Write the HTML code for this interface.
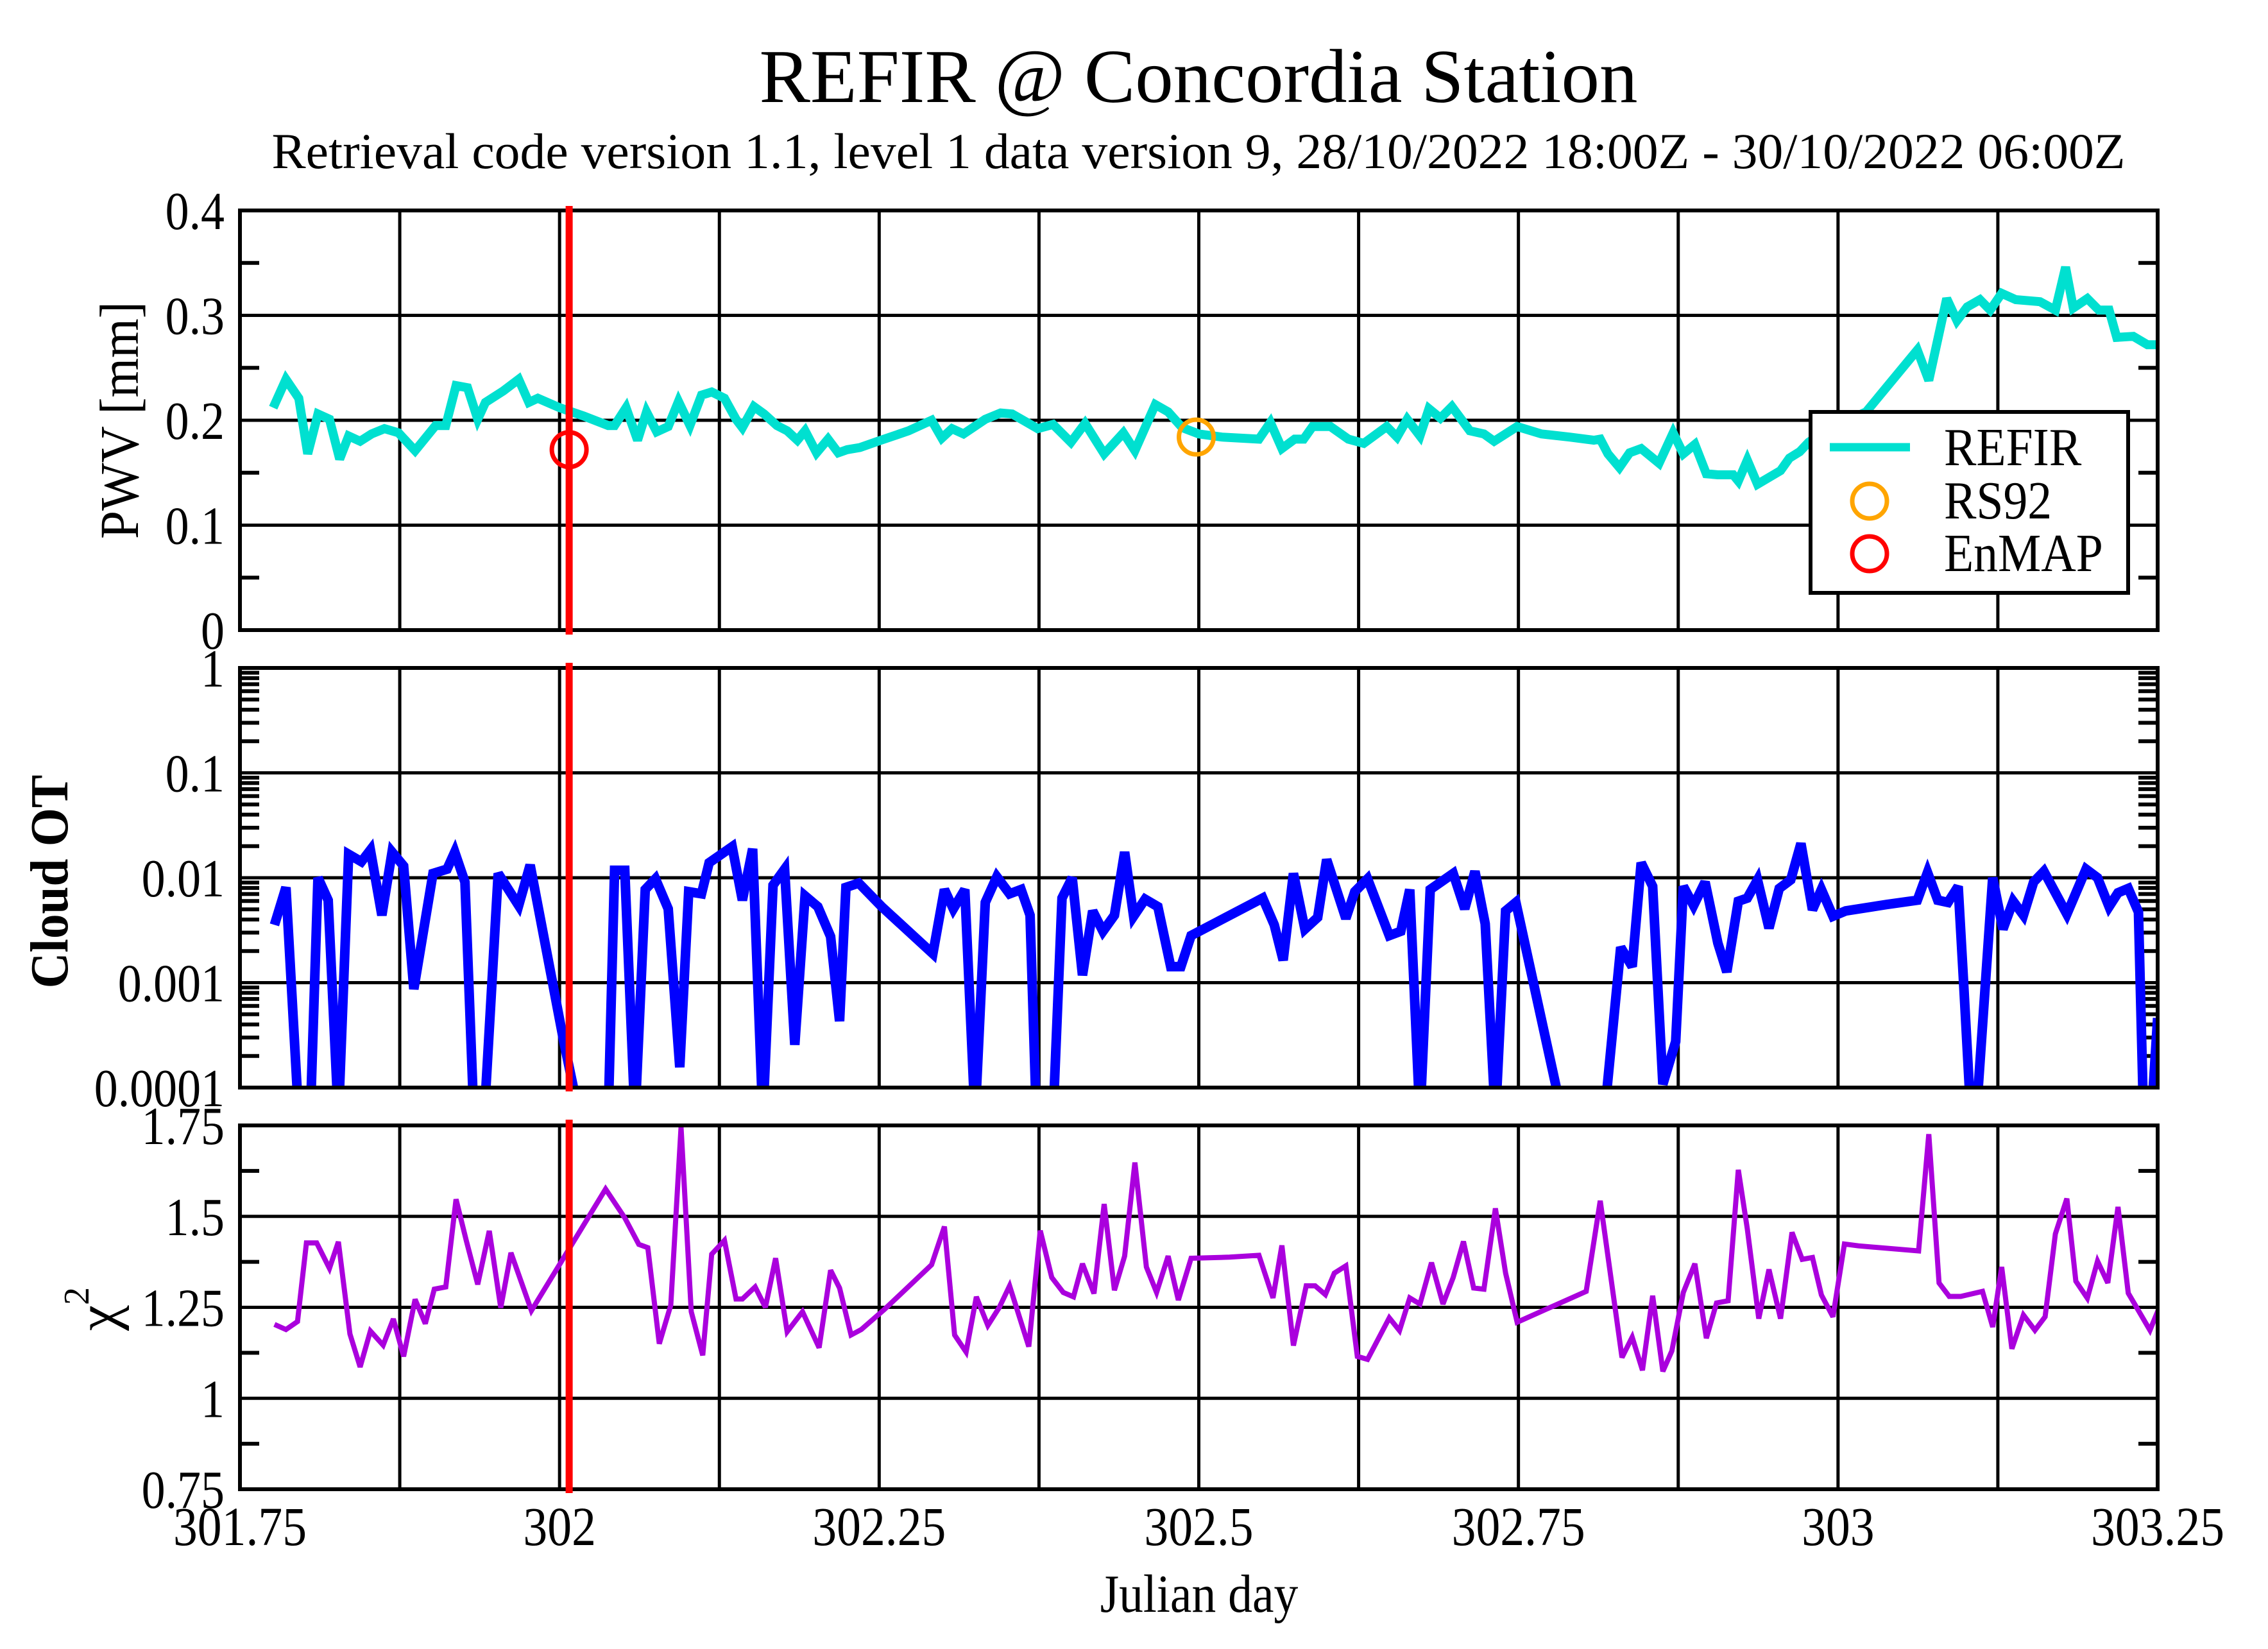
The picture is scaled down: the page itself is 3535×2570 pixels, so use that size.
<!DOCTYPE html>
<html><head><meta charset="utf-8"><title>REFIR @ Concordia Station</title>
<style>html,body{margin:0;padding:0;background:#fff;}svg{display:block;}text{font-family:"Liberation Serif",serif;fill:#000;}</style>
</head><body>
<svg id="chart" xmlns="http://www.w3.org/2000/svg" width="3535" height="2570" viewBox="0 0 3535 2570">
<rect width="3535" height="2570" fill="#fff"/>
<text x="1868" y="159" font-size="119" text-anchor="middle">REFIR @ Concordia Station</text>
<text x="1868" y="262" font-size="78" text-anchor="middle" textLength="2889" lengthAdjust="spacingAndGlyphs">Retrieval code version 1.1, level 1 data version 9, 28/10/2022 18:00Z - 30/10/2022 06:00Z</text>
<g id="plots"></g>
<text transform="translate(1869,2512) scale(0.9,1)" font-size="84" text-anchor="middle">Julian day</text>
<text transform="translate(215,655) rotate(-90) scale(0.92,1)" font-size="86" text-anchor="middle">PWV [mm]</text>
<text transform="translate(105,1374) rotate(-90) scale(0.92,1)" font-size="84" font-weight="bold" text-anchor="middle">Cloud OT</text>
<text transform="translate(182,2040) rotate(-90)" font-size="90" text-anchor="middle">χ<tspan font-size="56" dy="-44">2</tspan></text>
</svg>
<script>
// ---- data ----
const xTickLabels = ["301.75","302","302.25","302.5","302.75","303","303.25"];
const xTickValues = [301.75,302,302.25,302.5,302.75,303,303.25];
const pwvTickValues = [0,0.1,0.2,0.3,0.4];
const pwvTickLabels = ["0","0.1","0.2","0.3","0.4"];
const cotTickExp = [0,-1,-2,-3,-4];
const cotTickLabels = ["1","0.1","0.01","0.001","0.0001"];
const chiTickValues = [0.75,1,1.25,1.5,1.75];
const chiTickLabels = ["0.75","1","1.25","1.5","1.75"];

const pwvDays = [301.776,301.786,301.796,301.803,301.811,301.820,301.828,301.835,301.844,301.853,301.863,301.874,301.887,301.903,301.911,301.919,301.928,301.936,301.942,301.956,301.968,301.976,301.983,302.0,302.019,302.038,302.043,302.052,302.061,302.068,302.076,302.085,302.093,302.102,302.111,302.119,302.129,302.138,302.143,302.152,302.160,302.170,302.178,302.186,302.192,302.201,302.210,302.218,302.225,302.235,302.249,302.273,302.291,302.299,302.307,302.316,302.333,302.345,302.354,302.364,302.374,302.386,302.400,302.411,302.426,302.441,302.450,302.466,302.476,302.487,302.500,302.518,302.547,302.556,302.565,302.575,302.582,302.589,302.603,302.617,302.629,302.647,302.655,302.663,302.673,302.680,302.689,302.698,302.712,302.723,302.731,302.749,302.768,302.790,302.809,302.814,302.820,302.829,302.837,302.846,302.860,302.871,302.879,302.888,302.897,302.906,302.918,302.922,302.929,302.937,302.955,302.962,302.970,302.977,302.99,303.022,303.062,303.071,303.085,303.093,303.101,303.111,303.119,303.128,303.139,303.158,303.170,303.178,303.184,303.195,303.204,303.212,303.218,303.231,303.242,303.251];
const pwvVals = [0.212,0.239,0.221,0.168,0.206,0.201,0.163,0.185,0.180,0.187,0.192,0.188,0.171,0.195,0.195,0.233,0.231,0.201,0.217,0.228,0.239,0.217,0.221,0.212,0.204,0.195,0.195,0.212,0.181,0.208,0.189,0.194,0.218,0.195,0.224,0.227,0.221,0.201,0.193,0.213,0.206,0.195,0.190,0.181,0.190,0.169,0.182,0.169,0.172,0.174,0.180,0.190,0.200,0.183,0.192,0.187,0.201,0.207,0.206,0.199,0.192,0.196,0.179,0.197,0.168,0.188,0.171,0.215,0.208,0.193,0.187,0.184,0.182,0.198,0.173,0.182,0.182,0.194,0.194,0.182,0.178,0.194,0.184,0.201,0.185,0.211,0.202,0.213,0.190,0.187,0.180,0.194,0.187,0.184,0.181,0.182,0.168,0.155,0.169,0.173,0.159,0.188,0.168,0.177,0.149,0.148,0.148,0.142,0.162,0.139,0.152,0.164,0.170,0.179,0.19,0.208,0.267,0.238,0.316,0.295,0.308,0.315,0.305,0.321,0.315,0.313,0.305,0.346,0.307,0.316,0.305,0.305,0.279,0.280,0.272,0.272];

const cotDays = [301.777,301.786,301.796,301.805,301.811,301.819,301.827,301.835,301.845,301.852,301.861,301.869,301.878,301.886,301.901,301.912,301.918,301.926,301.933,301.941,301.952,301.968,301.977,302.003,302.016,302.038,302.043,302.051,302.059,302.067,302.075,302.085,302.094,302.101,302.111,302.117,302.135,302.143,302.151,302.159,302.167,302.176,302.184,302.192,302.202,302.212,302.219,302.224,302.234,302.252,302.292,302.301,302.308,302.317,302.325,302.333,302.342,302.352,302.361,302.368,302.373,302.386,302.393,302.401,302.409,302.417,302.425,302.434,302.442,302.449,302.458,302.468,302.478,302.486,302.494,302.550,302.559,302.566,302.574,302.583,302.593,302.600,302.615,302.622,302.632,302.649,302.658,302.665,302.673,302.681,302.699,302.708,302.716,302.724,302.732,302.740,302.748,302.785,302.817,302.830,302.839,302.846,302.855,302.863,302.873,302.879,302.887,302.896,302.906,302.913,302.922,302.929,302.937,302.946,302.954,302.963,302.971,302.980,302.987,302.996,303.006,303.038,303.062,303.070,303.078,303.086,303.094,303.098,303.104,303.108,303.121,303.129,303.137,303.145,303.153,303.161,303.179,303.194,303.203,303.212,303.219,303.227,303.235,303.239,303.245,303.250];
const cotLog10 = [-2.449,-2.092,-4.3,-4.3,-2.0,-2.214,-4.3,-1.776,-1.847,-1.735,-2.357,-1.755,-1.888,-3.061,-1.959,-1.918,-1.755,-2.041,-4.3,-4.3,-1.959,-2.265,-1.878,-3.541,-4.3,-4.3,-1.929,-1.929,-4.3,-2.112,-2.010,-2.296,-3.806,-2.133,-2.153,-1.857,-1.704,-2.214,-1.724,-4.3,-2.071,-1.918,-3.592,-2.173,-2.276,-2.561,-3.367,-2.092,-2.051,-2.276,-2.724,-2.112,-2.296,-2.112,-4.3,-2.235,-1.990,-2.153,-2.112,-2.357,-4.3,-4.3,-2.194,-2.0,-2.929,-2.316,-2.510,-2.357,-1.755,-2.367,-2.204,-2.276,-2.847,-2.847,-2.551,-2.194,-2.449,-2.786,-1.959,-2.490,-2.378,-1.827,-2.388,-2.133,-2.010,-2.551,-2.510,-2.112,-4.3,-2.112,-1.959,-2.296,-1.939,-2.439,-4.3,-2.316,-2.235,-4.3,-4.3,-2.663,-2.847,-1.857,-2.082,-3.969,-3.561,-2.082,-2.265,-2.041,-2.622,-2.898,-2.224,-2.194,-2.020,-2.480,-2.102,-2.020,-1.673,-2.306,-2.112,-2.367,-2.316,-2.255,-2.214,-1.949,-2.214,-2.235,-2.082,-2.949,-4.3,-4.3,-2.0,-2.490,-2.224,-2.357,-2.041,-1.939,-2.347,-1.918,-2.0,-2.276,-2.143,-2.102,-2.327,-4.3,-4.3,-3.337];

const chiDays = [301.777,301.786,301.795,301.802,301.810,301.820,301.827,301.836,301.844,301.852,301.862,301.870,301.878,301.887,301.895,301.902,301.911,301.919,301.927,301.936,301.945,301.954,301.962,301.978,302.036,302.051,302.062,302.069,302.078,302.087,302.095,302.103,302.112,302.119,302.129,302.138,302.143,302.153,302.161,302.169,302.178,302.190,302.203,302.212,302.219,302.228,302.236,302.254,302.291,302.301,302.309,302.318,302.326,302.335,302.344,302.352,302.367,302.376,302.385,302.394,302.402,302.409,302.418,302.426,302.434,302.442,302.450,302.459,302.467,302.476,302.484,302.494,302.524,302.547,302.558,302.565,302.574,302.584,302.591,302.599,302.606,302.615,302.624,302.632,302.649,302.657,302.665,302.673,302.682,302.691,302.699,302.707,302.715,302.723,302.732,302.740,302.749,302.803,302.814,302.831,302.839,302.847,302.855,302.863,302.870,302.879,302.888,302.897,302.905,302.914,302.922,302.929,302.938,302.946,302.955,302.964,302.972,302.980,302.987,302.996,303.005,303.016,303.063,303.071,303.079,303.087,303.096,303.113,303.121,303.128,303.136,303.145,303.154,303.162,303.170,303.179,303.186,303.195,303.203,303.211,303.219,303.227,303.244,303.251];
const chiVals = [1.203,1.189,1.211,1.427,1.427,1.357,1.430,1.177,1.086,1.185,1.146,1.218,1.115,1.272,1.205,1.300,1.306,1.547,1.434,1.313,1.460,1.249,1.400,1.241,1.575,1.496,1.423,1.414,1.150,1.256,1.745,1.238,1.118,1.396,1.434,1.273,1.273,1.306,1.250,1.385,1.183,1.238,1.139,1.352,1.303,1.174,1.189,1.244,1.367,1.472,1.174,1.127,1.279,1.200,1.250,1.309,1.142,1.461,1.332,1.291,1.279,1.370,1.288,1.534,1.297,1.391,1.648,1.361,1.291,1.391,1.270,1.385,1.388,1.393,1.276,1.420,1.145,1.309,1.309,1.285,1.344,1.364,1.115,1.107,1.221,1.186,1.276,1.259,1.373,1.259,1.332,1.431,1.303,1.300,1.522,1.344,1.209,1.294,1.543,1.112,1.168,1.077,1.282,1.074,1.130,1.291,1.370,1.165,1.262,1.268,1.628,1.466,1.219,1.354,1.219,1.456,1.382,1.387,1.284,1.224,1.424,1.419,1.405,1.726,1.317,1.280,1.280,1.294,1.196,1.361,1.136,1.229,1.187,1.224,1.452,1.549,1.322,1.275,1.377,1.317,1.526,1.289,1.187,1.247];

const enmapDay = 302.0075, enmapPwv = 0.172;
const rs92Day = 302.498, rs92Pwv = 0.184;

// ---- layout ----
const NS = "http://www.w3.org/2000/svg";
const L = 374, R = 3363;
const P1 = {top:328, bottom:982}, P2 = {top:1041, bottom:1695}, P3 = {top:1754, bottom:2321};
const xs = d => L + (d - 301.75) / 1.5 * (R - L);
const y1 = v => P1.bottom - v / 0.4 * (P1.bottom - P1.top);
const y2 = e => P2.bottom - (e + 4) / 4 * (P2.bottom - P2.top);
const y3 = v => P3.bottom - (v - 0.75) / 1.0 * (P3.bottom - P3.top);
const root = document.getElementById('plots');
function mk(tag, attrs, parent) {
  const el = document.createElementNS(NS, tag);
  for (const k in attrs) el.setAttribute(k, attrs[k]);
  (parent || root).appendChild(el);
  return el;
}
function line(x1, yA, x2, yB, w, col, parent) {
  return mk('line', {x1:x1, y1:yA, x2:x2, y2:yB, stroke:col, 'stroke-width':w}, parent);
}
function label(x, y, str, anchor, size, sx, parent) {
  const t = mk('text', {transform:'translate(' + x + ',' + y + ') scale(' + sx + ',1)', 'font-size':size, 'text-anchor':anchor}, parent);
  t.textContent = str;
  return t;
}

function panel(P, name, yTickPos, yTickLabels, minorPos, yfn, days, vals, color, width, redTop, redBot) {
  const g = mk('g', {});
  
  
  const cid = 'clip-' + name;
  const cp = mk('clipPath', {id: cid}, g);
  mk('rect', {x:L, y:P.top, width:R-L, height:P.bottom-P.top}, cp);
  for (let i = 1; i < 12; i++) {
    const gl = line(xs(301.75 + i * 0.125), P.top, xs(301.75 + i * 0.125), P.bottom, 5, '#000', g);
    
    
  }
  yTickPos.forEach((p, i) => {
    const yy = yfn(p);
    if (yy > P.top + 2 && yy < P.bottom - 2) {
      const gl = line(L, yy, R, yy, 5, '#000', g);
      
      
    }
    const t = label(350, yy + 29, yTickLabels[i], 'end', 84, 0.88, g);
    
    
  });
  minorPos.forEach(p => {
    const yy = yfn(p);
    line(L, yy, L + 30, yy, 6, '#000', g);
    line(R - 30, yy, R, yy, 6, '#000', g);
  });
  const pts = days.map((d, i) => xs(d).toFixed(1) + ',' + yfn(vals[i]).toFixed(1)).join(' ');
  const pl = mk('polyline', {points:pts, fill:'none', stroke:color, 'stroke-width':width, 'stroke-linejoin':'miter', 'stroke-miterlimit':3, 'clip-path':'url(#' + cid + ')'}, g);
  
  
  const fr = mk('rect', {x:L, y:P.top, width:R-L, height:P.bottom-P.top, fill:'none', stroke:'#000', 'stroke-width':6}, g);
  
  
  const rl = line(xs(enmapDay), redTop, xs(enmapDay), redBot, 11, '#ff0000', g);
  
  
  return g;
}

const p1minor = [0.05,0.15,0.25,0.35];
const g1 = panel(P1, 'pwv', pwvTickValues, pwvTickLabels, p1minor, y1, pwvDays, pwvVals, '#00e0d0', 14, 321, 989);
const p2minor = [];
for (let e = -4; e < 0; e++) for (let k = 2; k <= 9; k++) p2minor.push(e + Math.log10(k));
panel(P2, 'cloud-ot', cotTickExp, cotTickLabels, p2minor, y2, cotDays, cotLog10, '#0000ff', 15, 1033, 1701);
panel(P3, 'chi2', chiTickValues, chiTickLabels, [0.875,1.125,1.375,1.625], y3, chiDays, chiVals, '#aa00dd', 8, 1745, 2327);

const em = mk('circle', {cx:xs(enmapDay), cy:y1(enmapPwv), r:27, fill:'none', stroke:'#ff0000', 'stroke-width':7}, g1);


const rs = mk('circle', {cx:xs(rs92Day), cy:y1(rs92Pwv), r:27, fill:'none', stroke:'#ffa500', 'stroke-width':7}, g1);



xTickValues.forEach((d, i) => {
  const t = label(xs(d), 2408, xTickLabels[i], 'middle', 86, 0.88, root);
  
  
});

const lg = mk('g', {});


mk('rect', {x:2822, y:642, width:495, height:282, fill:'#fff', stroke:'#000', 'stroke-width':6}, lg);
const e1 = mk('g', {}, lg);


line(2852, 697, 2977, 697, 13, '#00e0d0', e1);
label(3030, 725, 'REFIR', 'start', 84, 0.9, e1);
const e2 = mk('g', {}, lg);


mk('circle', {cx:2914, cy:781, r:27, fill:'none', stroke:'#ffa500', 'stroke-width':7}, e2);
label(3030, 808, 'RS92', 'start', 84, 0.9, e2);
const e3 = mk('g', {}, lg);


mk('circle', {cx:2914, cy:863, r:27, fill:'none', stroke:'#ff0000', 'stroke-width':7}, e3);
label(3030, 890, 'EnMAP', 'start', 84, 0.9, e3);
</script>
</body></html>
